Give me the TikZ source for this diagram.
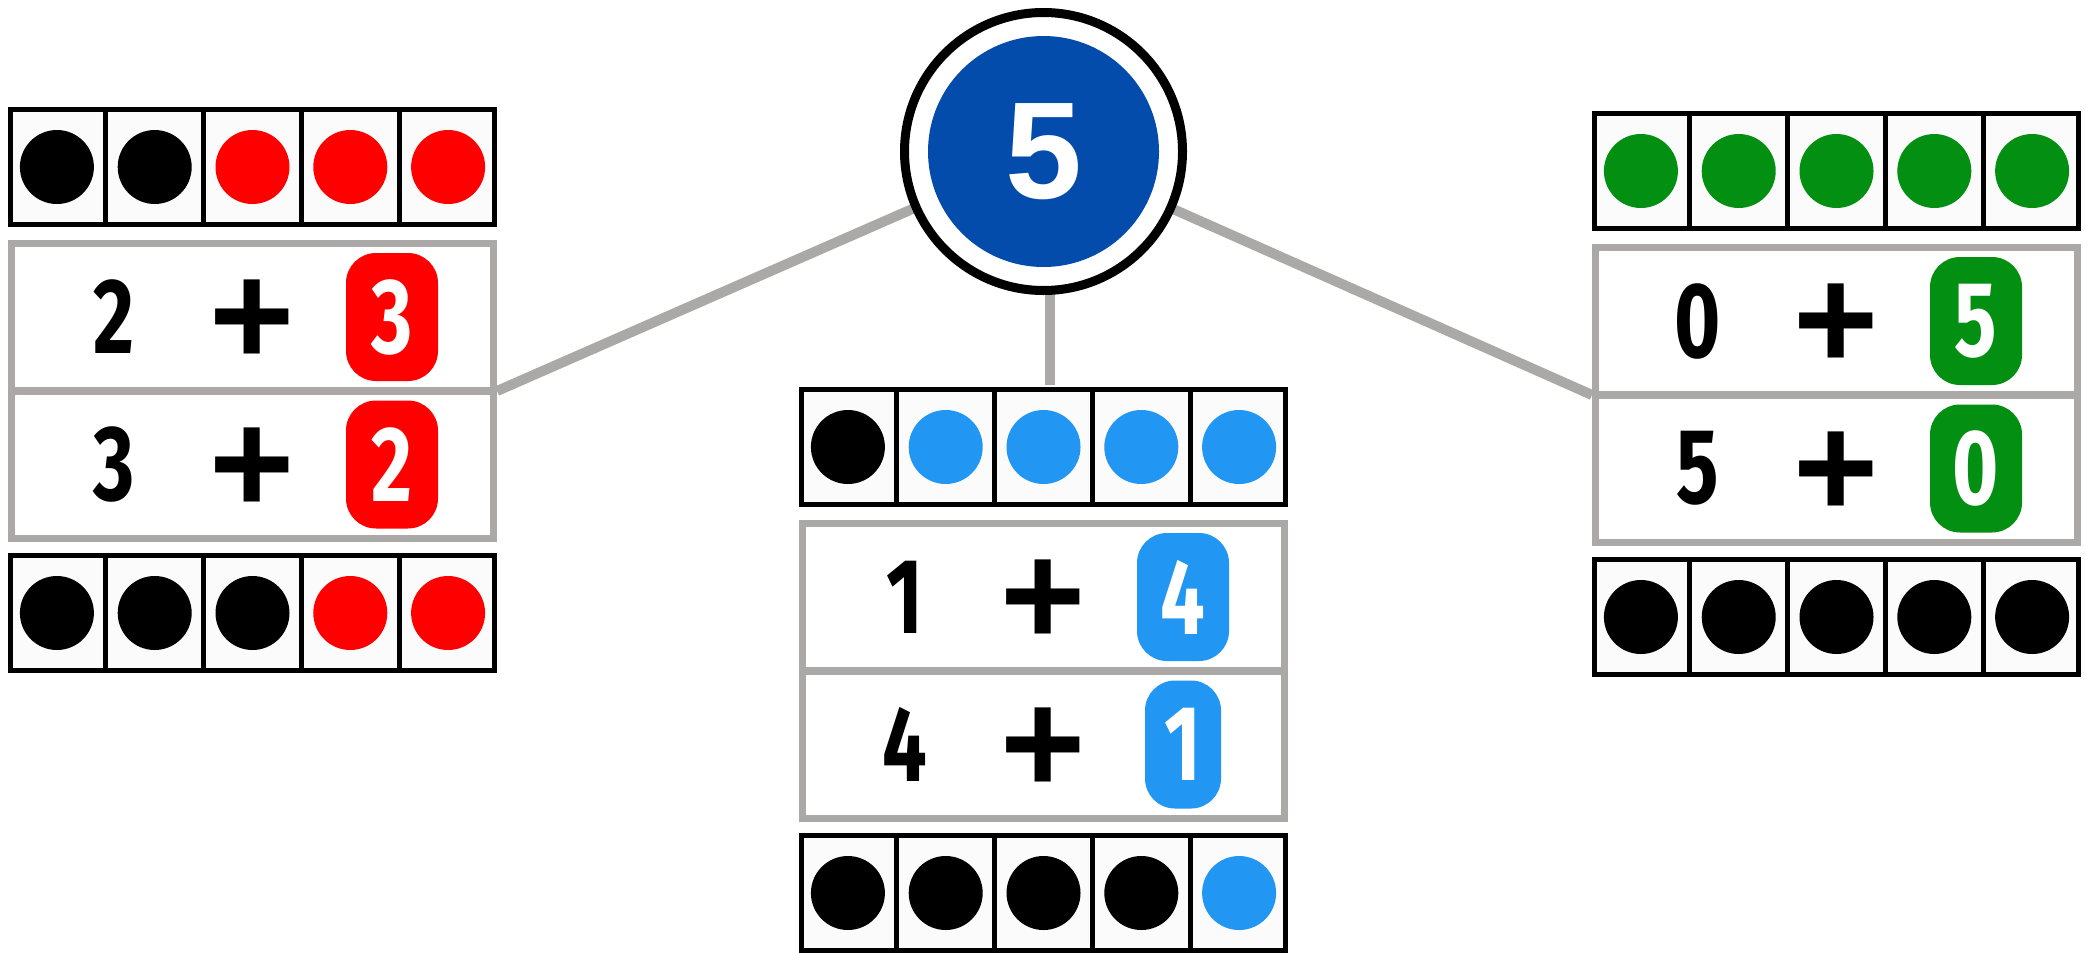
\documentclass[tikz,border=0pt]{standalone}
\usepackage{fontspec}
\newfontfamily\hubfont{Liberation Sans}
\newfontfamily\digfont[FakeStretch=0.74]{Fira Sans}
\definecolor{red5}{rgb}{1,0,0}
\definecolor{blue5}{rgb}{0.129,0.588,0.953}
\definecolor{green5}{rgb}{0.012,0.565,0.071}
\definecolor{hubblue}{rgb}{0.012,0.298,0.675}
\definecolor{greyline}{rgb}{0.667,0.663,0.655}
\definecolor{cellwhite}{rgb}{0.984,0.984,0.984}

\newcommand{\tenrow}[4]{%
  \node[tenframe] (#1) at ({#2+244.5},{#3+60}) {};
  \foreach \c [count=\i] in {#4} {
    \node[dotc, fill=\c] (#1-\i) at ({#2+97.8*(\i-0.5)},{#3+60}) {};
  }
  \foreach \i in {1,...,4} {
    \draw[cellline] ({#2+97.8*\i},{#3+2}) -- ({#2+97.8*\i},{#3+118});
  }
}
\newcommand{\sumbox}[3]{%
  \node[eqbox] (#1) at ({#2+244.5},{#3+151}) {};
  \draw[eqline] (#1.west) -- (#1.east);
}
\newcommand{\dg}[1]{\digfont\fontsize{53.5}{60}\selectfont\bfseries #1}
\newcommand{\eqrow}[7]{%
  \node[num] (#1-a) at ({#2+106},{#3}) {\dg{#4}};
  \node[plussign] (#1-p) at ({#2+244},{#3+6}) {\hubfont\fontsize{73}{80}\selectfont\bfseries +};
  \node[badge, fill=#6, #7] (#1-b) at ({#2+384},{#3}) {\dg{#5}};
}

\begin{document}
\begin{tikzpicture}[x=0.5pt,y=-0.5pt,
  tenframe/.style={draw=black, line width=2.5pt, fill=cellwhite, minimum width=242pt, minimum height=57.5pt, inner sep=0pt},
  cellline/.style={draw=black, line width=2.5pt},
  dotc/.style={circle, inner sep=0pt, minimum size=37pt},
  eqbox/.style={draw=greyline, line width=3.5pt, fill=white, minimum width=241pt, minimum height=147.5pt, inner sep=0pt},
  eqline/.style={draw=greyline, line width=4pt},
  num/.style={inner sep=0pt},
  plussign/.style={inner sep=0pt},
  badge/.style={rounded corners=15pt, minimum width=46pt, minimum height=64pt, inner sep=0pt, text=white},
  conn/.style={draw=greyline, line width=5pt},
  hub/.style={circle, draw=black, line width=4.5pt, fill=white, minimum size=139pt, inner sep=0pt},
  hubin/.style={circle, fill=hubblue, minimum size=115.5pt, inner sep=0pt, text=white}]

\fill[white] (0,0) rectangle (2087,951);

% left group
\tenrow{LT}{8}{107}{black,black,red5,red5,red5}
\sumbox{LE}{8}{240}
\eqrow{LE1}{8}{317}{2}{3}{red5}{}
\eqrow{LE2}{8}{464.5}{3}{2}{red5}{}
\tenrow{LB}{8}{553}{black,black,black,red5,red5}

% middle group
\tenrow{MT}{799}{387}{black,blue5,blue5,blue5,blue5}
\sumbox{ME}{799}{520}
\eqrow{ME1}{799}{597}{1}{4}{blue5}{}
\eqrow{ME2}{799}{744.5}{4}{1}{blue5}{minimum width=38pt}
\tenrow{MB}{799}{833}{black,black,black,black,blue5}

% right group
\tenrow{RT}{1592}{111}{green5,green5,green5,green5,green5}
\sumbox{RE}{1592}{244}
\eqrow{RE1}{1592}{321}{0}{5}{green5}{}
\eqrow{RE2}{1592}{468.5}{5}{0}{green5}{}
\tenrow{RB}{1592}{557}{black,black,black,black,black}

% connectors, then the hub on top of them
\coordinate (hubc) at (1043.5,151.5);
\draw[conn] (hubc) -- (LE.east);
\draw[conn] (hubc) -- (RE.west);
\draw[conn] ([xshift=3pt]hubc) -- ([xshift=3pt,yshift=1.25pt]MT.north);
\node[hub] (hub) at (hubc) {};
\node[hubin] (hubn) at (hub) {\hubfont\fontsize{69}{70}\selectfont\bfseries 5};

\useasboundingbox (0,0) rectangle (2087,951);
\end{tikzpicture}
\end{document}
